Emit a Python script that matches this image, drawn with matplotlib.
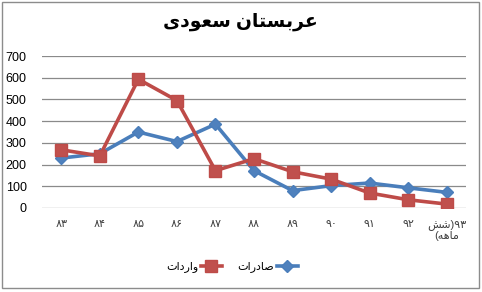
import re
import matplotlib
matplotlib.use("Agg")
import matplotlib.pyplot as plt
from matplotlib.patches import Rectangle

# chart data
title = "عربستان سعودی"
years = ["۸۳", "۸۴", "۸۵", "۸۶", "۸۷", "۸۸", "۸۹", "۹۰", "۹۱", "۹۲", "۹۳(شش\nماهه)"]
exports_name = "صادرات"
imports_name = "واردات"
exports = [230, 250, 350, 306, 386, 172, 80, 103, 115, 93, 72]
imports = [268, 240, 593, 495, 172, 227, 167, 133, 69, 38, 18]
y_ticks = [0, 100, 200, 300, 400, 500, 600, 700]

# matplotlib has no Arabic shaping: pick presentation forms by hand
# (isolated, final, initial, medial)
FORMS = {
    "ا": ("\uFE8D", "\uFE8E", None, None),
    "ب": ("\uFE8F", "\uFE90", "\uFE91", "\uFE92"),
    "ت": ("\uFE95", "\uFE96", "\uFE97", "\uFE98"),
    "د": ("\uFEA9", "\uFEAA", None, None),
    "ر": ("\uFEAD", "\uFEAE", None, None),
    "س": ("\uFEB1", "\uFEB2", "\uFEB3", "\uFEB4"),
    "ش": ("\uFEB5", "\uFEB6", "\uFEB7", "\uFEB8"),
    "ص": ("\uFEB9", "\uFEBA", "\uFEBB", "\uFEBC"),
    "ع": ("\uFEC9", "\uFECA", "\uFECB", "\uFECC"),
    "م": ("\uFEE1", "\uFEE2", "\uFEE3", "\uFEE4"),
    "ن": ("\uFEE5", "\uFEE6", "\uFEE7", "\uFEE8"),
    "ه": ("\uFEE9", "\uFEEA", "\uFEEB", "\uFEEC"),
    "و": ("\uFEED", "\uFEEE", None, None),
    "ی": ("\uFBFC", "\uFBFD", "\uFBFE", "\uFBFF"),
}
MIRROR = {"(": ")", ")": "("}


def shape(s):
    out = []
    for i, c in enumerate(s):
        if c not in FORMS:
            out.append(c)
            continue
        prev = s[i - 1] if i > 0 else ""
        nxt = s[i + 1] if i + 1 < len(s) else ""
        jp = prev in FORMS and FORMS[prev][2] is not None
        jn = FORMS[c][2] is not None and nxt in FORMS
        idx = 3 if (jp and jn) else 1 if jp else 2 if jn else 0
        out.append(FORMS[c][idx])
    return "".join(out)


def rtl_line(s):
    v = shape(s)[::-1]
    v = "".join(MIRROR.get(c, c) for c in v)
    # digit runs stay left-to-right
    return re.sub(r"[\u06F0-\u06F9]+", lambda m: m.group(0)[::-1], v)


def rtl(s):
    return "\n".join(rtl_line(line) for line in s.split("\n"))


plt.rcParams["font.family"] = ["Liberation Sans", "DejaVu Sans"]

fig = plt.figure(figsize=(4.82, 2.92), dpi=100)
fig.patches.append(Rectangle((2 / 482, 4 / 292), 477 / 482, 286 / 292,
                             transform=fig.transFigure, fill=False,
                             edgecolor="#8c8c8c", linewidth=1))

ax = fig.add_axes([42 / 482, 84 / 292, 424 / 482, 152 / 292])
x = list(range(len(years)))

ax.plot(x, exports, color="#4A7EBB", linewidth=2.6, marker="D",
        markersize=6.5, markerfacecolor="#4F81BD", markeredgecolor="#4A7EBB",
        label=rtl(exports_name), zorder=3)
ax.plot(x, imports, color="#BE4B48", linewidth=2.6, marker="s",
        markersize=8, markerfacecolor="#C0504D", markeredgecolor="#BE4B48",
        label=rtl(imports_name), zorder=4)

ax.set_xlim(-0.5, len(years) - 0.5)
ax.set_ylim(0, 700)
ax.set_yticks(y_ticks)
ax.set_yticklabels([str(v) for v in y_ticks], fontsize=9)
ax.set_xticks(x)
ax.set_xticklabels([rtl(y) for y in years], fontsize=8, color="#404040",
                   linespacing=1.1, va="top")
ax.tick_params(axis="both", length=0)
ax.tick_params(axis="y", pad=11)
ax.tick_params(axis="x", pad=8)
ax.grid(axis="y", color="#8a8a8a", linewidth=0.9)
ax.set_axisbelow(True)
for sp in ax.spines.values():
    sp.set_visible(False)

fig.text(240 / 482, 1 - 22 / 292, rtl(title), ha="center", va="center",
         fontsize=13.5, fontweight="bold")

h, l = ax.get_legend_handles_labels()
fig.legend([h[1], h[0]], [l[1], l[0]], loc="center",
           bbox_to_anchor=(232 / 482, 1 - 267 / 292), ncol=2,
           markerfirst=False, frameon=False, fontsize=8,
           handlelength=1.9, columnspacing=1.4, handletextpad=0.2)

fig.savefig("out.png", dpi=100)
